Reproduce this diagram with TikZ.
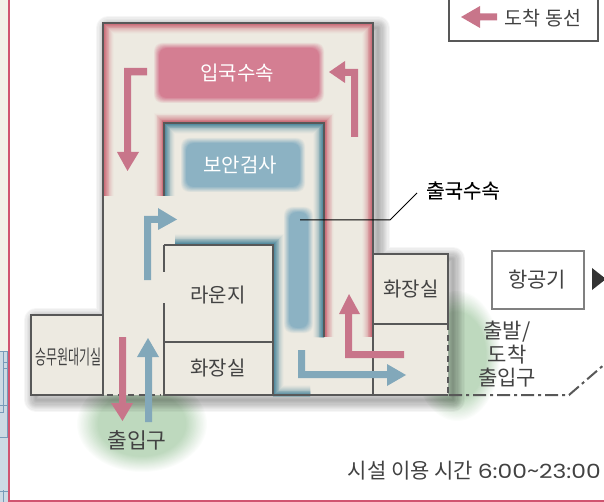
\documentclass[tikz,border=0pt]{standalone}
\usepackage{graphicx}
\usepackage{fontspec}
\setmainfont{Noto Sans CJK KR}
\newfontfamily\krmed[FakeBold=0.3]{Noto Sans CJK KR}
\newfontfamily\latwide{Poppins}
\definecolor{cream}{RGB}{237,234,225}
\definecolor{wallc}{RGB}{88,88,88}
\definecolor{pinkg}{RGB}{200,96,110}
\definecolor{blueg}{RGB}{66,128,150}
\definecolor{pinkbox}{RGB}{212,126,146}
\definecolor{bluebox}{RGB}{140,178,195}
\definecolor{pinka}{RGB}{200,117,138}
\definecolor{bluea}{RGB}{130,168,186}
\definecolor{greeng}{RGB}{190,217,190}
\definecolor{txt}{RGB}{66,66,66}
\definecolor{redline}{RGB}{208,84,112}
\definecolor{strip}{RGB}{243,240,232}
\definecolor{stripb}{RGB}{205,218,228}
\definecolor{planl}{RGB}{120,155,185}
\newcommand{\glowline}[3]{%
  \foreach \i in {1,...,12}{%
    \pgfmathsetmacro\wd{#2*2*(13-\i)/12}%
    \pgfmathsetmacro\pc{100*(\i/12)^1.4}%
    \draw[line width=\wd pt,color={#1!\pc!cream},miter limit=10] #3;
  }}
\newcommand{\blurbox}[6]{%
  \foreach \i in {0,...,7}{%
    \pgfmathsetmacro\ins{#6*\i/7}%
    \pgfmathsetmacro\pc{100*(\i+1)/8}%
    \pgfmathsetmacro\xa{#2+\ins}\pgfmathsetmacro\ya{#3+\ins}%
    \pgfmathsetmacro\xb{#4-\ins}\pgfmathsetmacro\yb{#5-\ins}%
    \fill[color={#1!\pc!cream},rounded corners=8pt] (\xa,\ya) rectangle (\xb,\yb);
  }}
\newcommand{\greenglow}[4]{%
  \foreach \i in {0,...,15}{%
    \pgfmathsetmacro\fr{1-0.32*\i/15}%
    \pgfmathsetmacro\pc{100*(\i+1)/16}%
    \fill[color={greeng!\pc!white}] (#1,#2) ellipse [x radius=#3*\fr,y radius=#4*\fr];
  }}
\tikzset{
  wall/.style={draw=wallc,line width=2.6pt},
  dashwall/.style={draw=wallc,line width=2.6pt,dash pattern=on 6pt off 4.5pt},
  lab/.style={text=txt,font=\fontsize{20}{24}\selectfont,inner sep=0pt,align=center},
  whitelab/.style={lab,text=white},
  pinkarrow/.style={fill=pinka},
  bluearrow/.style={fill=bluea}
}
\begin{document}
\begin{tikzpicture}[x=1pt,y=-1pt]
\useasboundingbox (0,0) rectangle (604,502);
% left page strip
\fill[strip] (0,0) rectangle (8.5,351);
\fill[stripb] (0,351) rectangle (8.5,502);
\draw[planl,line width=1pt] (0,351) -- (8.5,351) (3,351) -- (3,412) -- (0,412) (7,351) -- (7,437) -- (0,437) (0,405) -- (8.5,405) (3,490) -- (3,502) (0,491) -- (8,491);
\draw[planl,line width=.8pt] (3,362) -- (8.5,362) (3,368) -- (8.5,368);
% page frame
\draw[redline,line width=2pt] (9.3,0) -- (9.3,500.5) -- (604,500.5);
% green entrance glows
\greenglow{142}{424}{65}{48}
\greenglow{457}{356}{43}{65}
% building shadow
\foreach \i in {1,...,10}{
  \pgfmathsetmacro\wd{26-2.4*\i}
  \draw[black,opacity=.035,line width=\wd pt,line join=round,shift={(5,5)}]
    (103,23) -- (373,23) -- (373,254) -- (448,254) -- (448,395) -- (31,395) -- (31,315) -- (103,315) -- cycle;
}
% floors
\fill[cream] (103,23) -- (373,23) -- (373,254) -- (448,254) -- (448,395) -- (31,395) -- (31,315) -- (103,315) -- cycle;
% pink corridor glow
\begin{scope}
  \clip (103,23) -- (373,23) -- (373,337) -- (324,337) -- (324,123) -- (164,123) -- (164,196) -- (103,196) -- cycle;
  \glowline{pinkg}{11}{(103,196) -- (103,23) -- (373,23) -- (373,337)}
  \glowline{pinkg}{10}{(164,196) -- (164,123) -- (324,123) -- (324,337)}
\end{scope}
% blue corridor glow
\begin{scope}
  \clip (164,123) -- (324,123) -- (324,337) -- (310,337) -- (310,396) -- (273,396) -- (273,245) -- (175,245) -- (175,196) -- (164,196) -- cycle;
  \glowline{blueg}{11}{(164,210) -- (164,123) -- (324,123) -- (324,350)}
  \glowline{blueg}{11}{(160,245) -- (273,245) -- (273,396) -- (320,396)}
\end{scope}
% blurred rooms
\blurbox{pinkbox}{154}{43}{324}{103}{5}
\blurbox{bluebox}{181}{138}{305}{192}{5}
\blurbox{bluebox}{284}{207}{313}{333}{5}
% walls
\draw[wall,line join=miter] (164,196) -- (164,123) -- (324,123) -- (324,337);
\draw[wall] (164,245) -- (164,272) (164,303) -- (164,396);
\draw[wall] (164,245) -- (273,245) -- (273,395);
\draw[wall] (164,342) -- (273,342);
\draw[wall] (103,315) -- (31,315) -- (31,395) -- (103,395);
\draw[wall] (103,396) -- (103,23) -- (373,23) -- (373,395);
\draw[wall] (373,254) -- (448,254) -- (448,324) -- (373,324);
\draw[wall] (164,395) -- (448,395);
\draw[dashwall] (448,324) -- (448,395);
\draw[dashwall] (107,395) -- (160,395);
% dash-dot way out
\coordinate (wayA) at (449,395);
\coordinate (wayB) at (569,395);
\coordinate (wayC) at (606,363);
\draw[wallc,line width=2pt,dash pattern=on 13pt off 4pt on 3pt off 4pt] (wayA) -- (wayB) -- (wayC);
% aircraft box
\node[draw=gray,line width=1.1pt,fill=white,minimum width=92pt,minimum height=58pt,inner sep=0pt] (plane) at (538,280) {};
\node[lab,font=\fontsize{21}{24}\selectfont] (planetxt) at (537,280) {항공기};
\fill[black!80] (592,268) -- (606,279) -- (592,290) -- cycle;
% legend
\draw[draw=wallc,line width=1.6pt] (449,-3) -- (449,41) -- (598,41) -- (598,-3);
\fill[pinkarrow] (461,17) -- (480,6) -- (480,13.5) -- (497,13.5) -- (497,20.5) -- (480,20.5) -- (480,28) -- cycle;
\node[lab,font=\fontsize{19.5}{24}\selectfont] (legend) at (543,18) {도착 동선};
% arrows
\fill[pinkarrow] (147,68) -- (124,68) -- (124,152) -- (117,152) -- (127.5,171) -- (139,152) -- (131,152) -- (131,75.5) -- (147,75.5) -- cycle;
\fill[pinkarrow] (358,137) -- (358,69) -- (345,69) -- (345,61) -- (329,72) -- (345,83) -- (345,76) -- (351,76) -- (351,137) -- cycle;
\fill[bluearrow] (144,280) -- (144,216) -- (158,216) -- (158,208) -- (177,219.5) -- (158,230) -- (158,223) -- (151,223) -- (151,280) -- cycle;
\fill[pinkarrow] (119,337) -- (126,337) -- (126,403) -- (133,403) -- (122.5,421) -- (111,403) -- (119,403) -- cycle;
\fill[bluearrow] (145,422) -- (152,422) -- (152,357) -- (159,357) -- (148,338) -- (137,357) -- (145,357) -- cycle;
\fill[pinkarrow] (404,351) -- (352,351) -- (352,314) -- (360,314) -- (349,294) -- (339,314) -- (345,314) -- (345,358) -- (404,358) -- cycle;
\fill[bluearrow] (298,350) -- (305,350) -- (305,371) -- (387,371) -- (387,364) -- (406,375) -- (387,386) -- (387,378) -- (298,378) -- cycle;
% labels
\node[whitelab] (arrival) at (237,73) {입국수속};
\node[whitelab] (security) at (240,165) {보안검사};
\node[lab,text=black,font=\fontsize{20}{24}\selectfont\krmed] (departure) at (463,190.5) {출국수속};
\node[lab] (lounge) at (218,295) {라운지};
\node[lab] (wc1) at (218,368) {화장실};
\node[lab] (wc2) at (411,289) {화장실};
\node[lab,xscale=.6] (crew) at (68.7,357) {승무원대기실};
\node[lab,font=\fontsize{21.5}{24}\selectfont] (gate) at (137,440) {출입구};
\node[lab,font=\fontsize{21}{23.5}\selectfont] (depgate) at (507,354.5) {출발/\\도착\\출입구};
\node[lab,font=\fontsize{21}{24}\selectfont,anchor=east] (hours) at (601,471) {시설 이용 시간 \scalebox{1.2}[1]{\latwide\fontsize{19.5}{24}\selectfont 6:00\raisebox{1pt}{\textasciitilde}23:00}};
% leader
\coordinate (leadA) at (300,220);
\coordinate (leadB) at (390,220);
\coordinate (leadC) at (417,193);
\draw[black,line width=1pt] (leadA) -- (leadB) -- (leadC);
\end{tikzpicture}
\end{document}
